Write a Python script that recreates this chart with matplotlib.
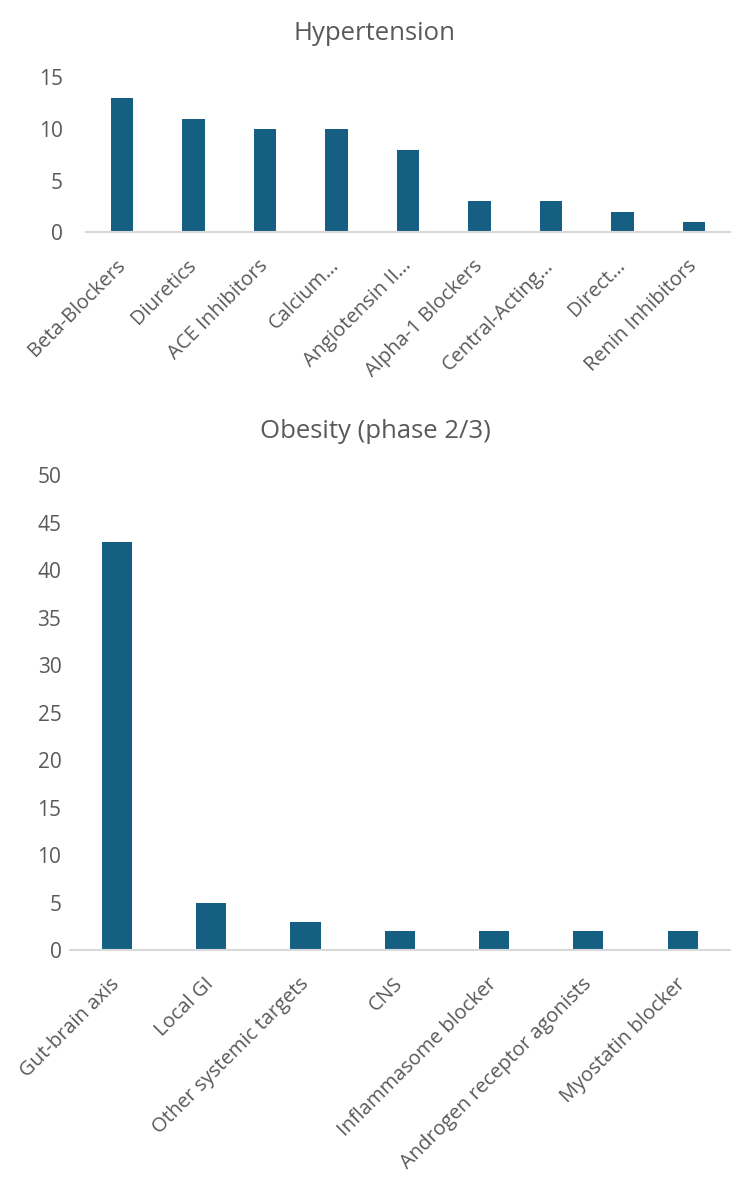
import matplotlib
matplotlib.use("Agg")
import matplotlib.pyplot as plt

# hypertension drug classes
hyp_classes = ["Beta-Blockers", "Diuretics", "ACE Inhibitors", "Calcium…", "Angiotensin II…",
               "Alpha-1 Blockers", "Central-Acting…", "Direct…", "Renin Inhibitors"]
hyp_counts = [13, 11, 10, 10, 8, 3, 3, 2, 1]

# obesity targets (phase 2/3)
obe_classes = ["Gut-brain axis", "Local GI", "Other systemic targets", "CNS",
               "Inflammasome blocker", "Androgen receptor agonists", "Myostatin blocker"]
obe_counts = [43, 5, 3, 2, 2, 2, 2]

BAR = "#156082"
TXT = "#595959"

plt.rcParams["font.family"] = ["Open Sans", "DejaVu Sans"]

fig = plt.figure(figsize=(7.5, 11.91), dpi=100)


def draw(ax, names, values, ymax, step, width, ypad):
    x = range(len(names))
    ax.bar(x, values, width=width, color=BAR)
    ax.set_xlim(-0.5, len(names) - 0.5)
    ax.set_ylim(0, ymax)
    ax.set_yticks(range(0, ymax + 1, step))
    ax.set_xticks(list(x))
    ax.set_xticklabels(names, rotation=45, ha="right", va="center",
                       rotation_mode="anchor", fontsize=14.5)
    for s in ["top", "right", "left"]:
        ax.spines[s].set_visible(False)
    ax.spines["bottom"].set_color("#d9d9d9")
    ax.spines["bottom"].set_linewidth(1.5)
    ax.tick_params(axis="both", length=0, colors=TXT)
    ax.tick_params(axis="y", pad=ypad, labelsize=15)
    ax.tick_params(axis="x", pad=22)


ax1 = fig.add_axes([0.115, 0.805, 0.858, 0.130])
draw(ax1, hyp_classes, hyp_counts, 15, 5, 0.31, 17)
fig.text(0.5, 1 - 33 / 1191, "Hypertension", color=TXT, fontsize=18.5,
         ha="center", va="center")

ax2 = fig.add_axes([0.093, 0.202, 0.88, 0.399])
draw(ax2, obe_classes, obe_counts, 50, 5, 0.32, 6)
fig.text(0.5, 1 - 432 / 1191, "Obesity (phase 2/3)", color=TXT, fontsize=18.5,
         ha="center", va="center")

fig.savefig("out.png", dpi=100)
